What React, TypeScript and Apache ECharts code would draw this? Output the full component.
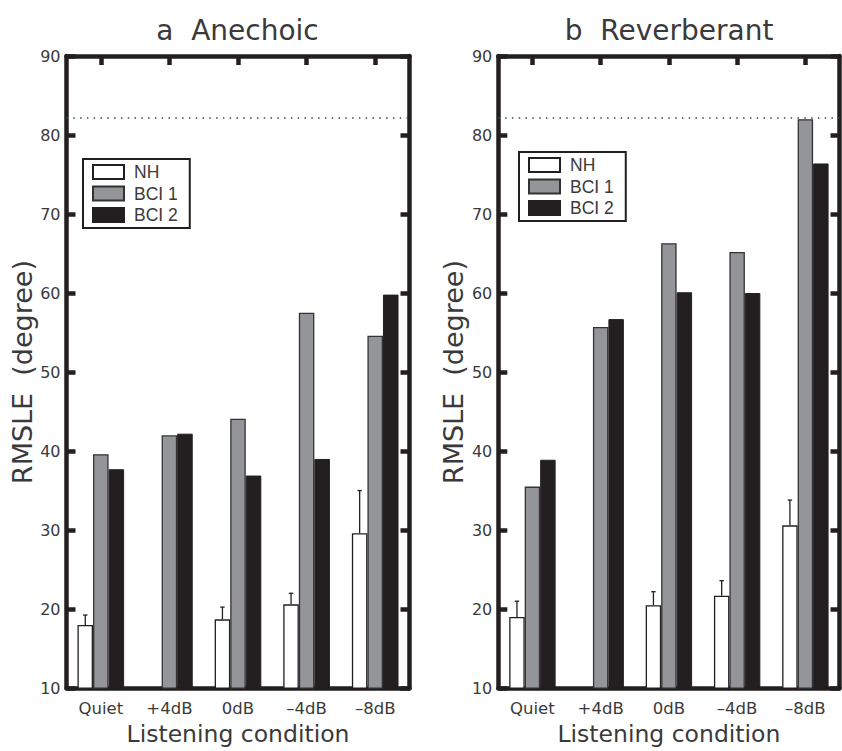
import React, { useEffect, useRef } from "react";
import * as echarts from "echarts";

const categories = ["Quiet", "+4dB", "0dB", "–4dB", "–8dB"];
const seriesNames = ["NH", "BCI 1", "BCI 2"];
const yTicks = { min: 10, max: 90, interval: 10 };

// Panel a: Anechoic
const anechoicNH = [18.0, null, 18.7, 20.6, 29.6];
const anechoicNHErr = [1.25, null, 1.55, 1.4, 5.4];
const anechoicBCI1 = [39.6, 42.0, 44.1, 57.5, 54.6];
const anechoicBCI2 = [37.7, 42.2, 36.9, 39.0, 59.8];

// Panel b: Reverberant
const reverbNH = [19.0, null, 20.5, 21.7, 30.6];
const reverbNHErr = [2.0, null, 1.7, 1.9, 3.2];
const reverbBCI1 = [35.5, 55.7, 66.3, 65.2, 82.0];
const reverbBCI2 = [38.9, 56.7, 60.1, 60.0, 76.4];

const chanceLevel = 82.2;

const panelTitles = ["a  Anechoic", "b  Reverberant"];
const yAxisTitle = "RMSLE  (degree)";
const xAxisTitle = "Listening condition";

const FONT = "DejaVu Sans";
const LFONT = "Liberation Sans";
const TXT = "#3a3a3a";
const INK = "#231f20";
const GRAY = "#939598";
const AXW = 4.5;
const BAR_GAP = 0.32;

const grids = [
  { left: 66.5, top: 56, width: 343, height: 641.5 },
  { left: 498.3, top: 56, width: 341.2, height: 641.5 },
];

function makeTick(extra: any = {}) {
  return { show: true, inside: true, length: 9, lineStyle: { color: INK, width: 4.5 }, ...extra };
}

function buildOption() {
  const xAxes: any[] = [];
  const yAxes: any[] = [];
  grids.forEach((g, gi) => {
    xAxes.push({
      type: "category",
      gridIndex: gi,
      position: "bottom",
      data: categories,
      axisLine: { onZero: false, lineStyle: { color: INK, width: AXW } },
      axisTick: { show: false },
      axisLabel: { color: TXT, fontFamily: FONT, fontSize: 16.5, margin: 12 },
      name: xAxisTitle,
      nameLocation: "middle",
      nameGap: 29,
      nameTextStyle: { color: TXT, fontFamily: FONT, fontSize: 23.5 },
    });
    xAxes.push({
      type: "category",
      gridIndex: gi,
      position: "top",
      data: categories,
      axisLine: { show: true, onZero: false, lineStyle: { color: INK, width: AXW } },
      axisTick: makeTick({ alignWithLabel: true, interval: 0 }),
      axisLabel: { show: false },
    });
    yAxes.push({
      type: "value",
      gridIndex: gi,
      position: "left",
      min: yTicks.min,
      max: yTicks.max,
      interval: yTicks.interval,
      splitLine: { show: false },
      axisLine: { show: true, onZero: false, lineStyle: { color: INK, width: AXW } },
      axisTick: makeTick(),
      axisLabel: { color: TXT, fontFamily: FONT, fontSize: 16, margin: 6 },
      name: yAxisTitle,
      nameLocation: "middle",
      nameGap: 31,
      nameTextStyle: { color: TXT, fontFamily: FONT, fontSize: 27 },
    });
    yAxes.push({
      type: "value",
      gridIndex: gi,
      position: "right",
      min: yTicks.min,
      max: yTicks.max,
      interval: yTicks.interval,
      splitLine: { show: false },
      axisLine: { show: true, onZero: false, lineStyle: { color: INK, width: AXW } },
      axisTick: makeTick(),
      axisLabel: { show: false },
    });
  });

  const panels = [
    { nh: anechoicNH, err: anechoicNHErr, b1: anechoicBCI1, b2: anechoicBCI2 },
    { nh: reverbNH, err: reverbNHErr, b1: reverbBCI1, b2: reverbBCI2 },
  ];

  const series: any[] = [];
  panels.forEach((p, pi) => {
    const xi = pi * 2;
    const yi = pi * 2;
    const common = { type: "bar", xAxisIndex: xi, yAxisIndex: yi, barGap: "0%", barCategoryGap: BAR_GAP * 100 + "%" };
    series.push({ ...common, name: seriesNames[0], data: p.nh, itemStyle: { color: "#ffffff", borderColor: INK, borderWidth: 1.3 } });
    series.push({
      ...common,
      name: seriesNames[1],
      data: p.b1,
      itemStyle: { color: GRAY, borderColor: "#333333", borderWidth: 1.3 },
      markLine: {
        silent: true,
        symbol: ["none", "none"],
        label: { show: false },
        lineStyle: { color: "#444444", width: 1.6, type: [1.5, 5.3] },
        data: [{ yAxis: chanceLevel }],
        z: 5,
      },
    });
    series.push({ ...common, name: seriesNames[2], data: p.b2, itemStyle: { color: INK, borderColor: INK, borderWidth: 1 } });
    const errData: any[] = [];
    p.nh.forEach((v, i) => {
      if (v != null && p.err[i] != null) errData.push([i, v, p.err[i]]);
    });
    series.push({
      type: "custom",
      name: "err" + pi,
      xAxisIndex: xi,
      yAxisIndex: yi,
      encode: { x: 0, y: 1 },
      data: errData,
      z: 4,
      renderItem: (params: any, api: any) => {
        const idx = api.value(0);
        const v = api.value(1);
        const e = api.value(2);
        const base = api.coord([idx, v]);
        const top = api.coord([idx, v + e]);
        const band = api.size([1, 0])[0];
        const x = base[0] - (band * (1 - BAR_GAP)) / 3;
        const st = { stroke: INK, lineWidth: 1.3 };
        return {
          type: "group",
          children: [
            { type: "line", shape: { x1: x, y1: base[1], x2: x, y2: top[1] }, style: st },
            { type: "line", shape: { x1: x - 2.2, y1: top[1], x2: x + 2.2, y2: top[1] }, style: st },
          ],
        };
      },
    });
  });

  const legendBase = {
    data: seriesNames,
    orient: "vertical",
    icon: "rect",
    itemWidth: 31,
    itemHeight: 14,
    itemGap: 3.5,
    padding: [4, 12, 4, 9],
    borderColor: INK,
    borderWidth: 2,
    backgroundColor: "#ffffff",
    selectedMode: false,
    textStyle: { color: TXT, fontFamily: LFONT, fontSize: 17.5, padding: [0, 0, 0, 5] },
  };

  return {
    animation: false,
    backgroundColor: "#ffffff",
    grid: grids.map((g) => ({ ...g, containLabel: false })),
    xAxis: xAxes,
    yAxis: yAxes,
    legend: [
      { ...legendBase, left: 83, top: 159 },
      { ...legendBase, left: 519, top: 152 },
    ],
    graphic: panelTitles.map((t, i) => ({
      type: "text",
      x: i === 0 ? 237.5 : 669,
      y: 30,
      style: { text: t, fill: TXT, fontSize: 28, fontFamily: FONT, align: "center", verticalAlign: "middle" },
    })),
    series,
  };
}

export default function App() {
  const ref = useRef<HTMLDivElement>(null);
  useEffect(() => {
    if (!ref.current) return;
    const chart = echarts.init(ref.current, undefined, { renderer: "svg" });
    chart.setOption(buildOption() as any);
    return () => chart.dispose();
  }, []);
  return (
    <div ref={ref} style={{ position: "fixed", left: 0, top: 0, width: 842, height: 751, background: "#fff" }} />
  );
}
